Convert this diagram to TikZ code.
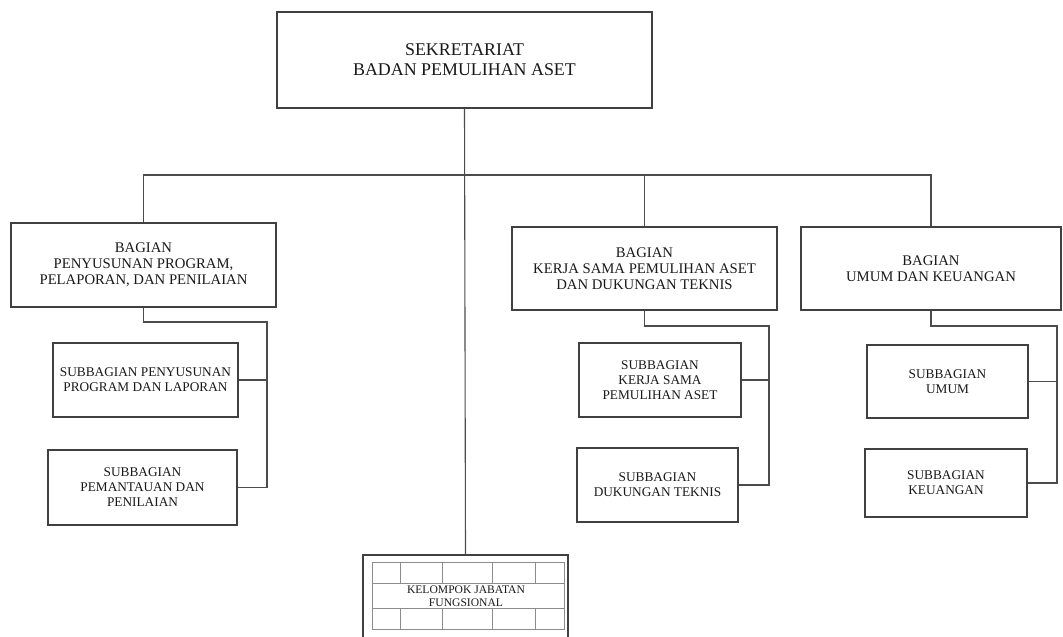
\documentclass[tikz,border=0pt]{standalone}
\usepackage{fontspec}
\setmainfont{Liberation Serif}
\begin{document}
\begin{tikzpicture}[x=1pt,y=-1pt,
  box/.style={draw=black!75,line width=1.2pt,rectangle,inner sep=0pt,align=center,text=black!90},
  topbox/.style={box,font=\fontsize{17.9}{20}\selectfont},
  bagbox/.style={box,font=\fontsize{14.7}{16}\selectfont},
  subbox/.style={box,font=\fontsize{13.3}{15}\selectfont},
  conn/.style={draw=black!70,line width=1.1pt},
  grid/.style={draw=black!45,line width=0.7pt}]
\useasboundingbox (0,0) rectangle (1063,637);
\fill[white] (0,0) rectangle (1063,637);

% top
\node[topbox,minimum width=375pt,minimum height=96pt] (top) at (464.5,60) {SEKRETARIAT\\BADAN PEMULIHAN ASET};

% bagian
\node[bagbox,minimum width=265pt,minimum height=84pt] (b1) at (143.5,265) {BAGIAN\\PENYUSUNAN PROGRAM,\\PELAPORAN, DAN PENILAIAN};
\node[bagbox,minimum width=265pt,minimum height=83pt] (b2) at (644.5,268.5) {BAGIAN\\KERJA SAMA PEMULIHAN ASET\\DAN DUKUNGAN TEKNIS};
\node[bagbox,minimum width=260pt,minimum height=83pt] (b3) at (931,268.5) {BAGIAN\\UMUM DAN KEUANGAN};

% subbagian
\node[subbox,minimum width=185pt,minimum height=74pt] (s11) at (145.5,380) {SUBBAGIAN PENYUSUNAN\\PROGRAM DAN LAPORAN};
\node[subbox,minimum width=189pt,minimum height=75pt] (s12) at (142.5,487.5) {SUBBAGIAN\\PEMANTAUAN DAN\\PENILAIAN};
\node[subbox,minimum width=162pt,minimum height=74pt] (s21) at (660,380) {SUBBAGIAN\\KERJA SAMA\\PEMULIHAN ASET};
\node[subbox,minimum width=161pt,minimum height=74pt] (s22) at (657.5,485) {SUBBAGIAN\\DUKUNGAN TEKNIS};
\node[subbox,minimum width=161pt,minimum height=73pt] (s31) at (947.5,381.5) {SUBBAGIAN\\UMUM};
\node[subbox,minimum width=162pt,minimum height=68pt] (s32) at (946,483) {SUBBAGIAN\\KEUANGAN};

% kelompok jabatan fungsional
\node[box,minimum width=205pt,minimum height=95pt] (kel) at (465.5,602.5) {};
\draw[grid] (372,562) rectangle (564,629);
\draw[grid] (372,583) -- (564,583) (372,608) -- (564,608);
\foreach \cx in {400,442,492,535}{
  \draw[grid] (\cx,562) -- (\cx,583) (\cx,608) -- (\cx,629);
}
\node[align=center,text=black!90,font=\fontsize{11.6}{12.5}\selectfont] (keltext) at (466,596) {KELOMPOK JABATAN\\FUNGSIONAL};

% connectors
\coordinate (bus) at (464,175);
\draw[conn] (top.south) -- (kel.north);
\draw[conn] (b1.north) -- (b1.north |- bus) -- (b3.north |- bus) -- (b3.north);
\draw[conn] (b2.north) -- (b2.north |- bus);

\coordinate (t1) at (267,322);
\coordinate (t2) at (769,326);
\coordinate (t3) at (1057,326);
\draw[conn] (b1.south) |- (t1) -- (t1 |- s12.east) -- (s12.east);
\draw[conn] (s11.east) -- (s11.east -| t1);
\draw[conn] (b2.south) |- (t2) -- (t2 |- s22.east) -- (s22.east);
\draw[conn] (s21.east) -- (s21.east -| t2);
\draw[conn] (b3.south) |- (t3) -- (t3 |- s32.east) -- (s32.east);
\draw[conn] (s31.east) -- (s31.east -| t3);
\end{tikzpicture}
\end{document}
